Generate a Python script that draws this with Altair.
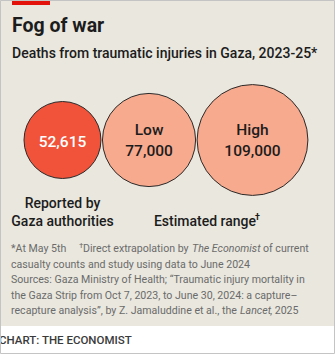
import math
import altair as alt
import pandas as pd

# ---- data ----
categories = ["Reported by Gaza authorities", "Low estimate", "High estimate"]
values = [52615, 77000, 109000]
value_labels = ["52,615", "77,000", "109,000"]
top_labels = ["", "Low", "High"]
fill_colors = ["#f0533a", "#f8aa8e", "#f8aa8e"]
text_colors = ["#ffffff", "#1c1c1c", "#1c1c1c"]

# ---- layout constants ----
W, H = 335, 354
R_MAX = 55.4
LEFT = 24
GAP = 1.5
CY = 140
BEIGE = "#e9e7de"
FONT = "Roboto"

radii = [R_MAX * math.sqrt(v / max(values)) for v in values]
cx = []
pos = LEFT
for r in radii:
    cx.append(pos + r)
    pos += 2 * r + GAP

df = pd.DataFrame({
    "category": categories,
    "value": values,
    "value_label": value_labels,
    "top_label": top_labels,
    "fill": fill_colors,
    "tcolor": text_colors,
    "cx": cx,
    "vy": [CY + 2 if t == "" else CY + 11 for t in top_labels],
    "ty": [CY - 10 for _ in top_labels],
})

xs = alt.Scale(domain=[0, W], range=[0, W])
ys = alt.Scale(domain=[0, H], range=[0, H])
one = pd.DataFrame({"a": [0]})


def txt(s, x, y, size, weight="normal", color="#1c1c1c", align="left",
        style="normal", font=FONT, baseline="alphabetic"):
    return alt.Chart(one).mark_text(
        text=s, align=align, baseline=baseline, fontSize=size,
        fontWeight=weight, fontStyle=style, color=color, font=font
    ).encode(x=alt.value(x), y=alt.value(y))


bg = alt.Chart(one).mark_rect(color=BEIGE).encode(
    x=alt.value(0), x2=alt.value(W), y=alt.value(0), y2=alt.value(326))
redbar = alt.Chart(one).mark_rect(color="#e3120b").encode(
    x=alt.value(12), x2=alt.value(50), y=alt.value(0), y2=alt.value(5))
border = alt.Chart(one).mark_rect(fillOpacity=0, stroke="#c4c4c4", strokeWidth=1).encode(
    x=alt.value(0.5), x2=alt.value(W - 0.5), y=alt.value(0.5), y2=alt.value(H - 0.5))

circles = alt.Chart(df).mark_circle(opacity=1, stroke="#2a2a2a", strokeWidth=1).encode(
    x=alt.X("cx:Q", scale=xs, axis=None),
    y=alt.value(CY),
    size=alt.Size("value:Q", scale=alt.Scale(domain=[0, max(values)], range=[0, (2 * R_MAX) ** 2], zero=True), legend=None),
    fill=alt.Fill("fill:N", scale=None),
)

val_text = alt.Chart(df).mark_text(baseline="middle", align="center", fontSize=15.5, fontWeight=500, font=FONT).encode(
    x=alt.X("cx:Q", scale=xs, axis=None),
    y=alt.Y("vy:Q", scale=ys, axis=None),
    text="value_label:N",
    color=alt.Color("tcolor:N", scale=None),
)
top_text = alt.Chart(df).mark_text(baseline="middle", align="center", fontSize=15.5, fontWeight=500, font=FONT).encode(
    x=alt.X("cx:Q", scale=xs, axis=None),
    y=alt.Y("ty:Q", scale=ys, axis=None),
    text="top_label:N",
    color=alt.Color("tcolor:N", scale=None),
)

layers = [
    bg, redbar,
    txt("Fog of war", 12, 32, 19.5, weight="bold"),
    txt("Deaths from traumatic injuries in Gaza, 2023-25*", 12, 57.5, 14, weight=500),
    circles, val_text, top_text,
    txt("Reported by", cx[0], 204, 14, weight=500, align="center", baseline="middle"),
    txt("Gaza authorities", cx[0], 222, 14, weight=500, align="center", baseline="middle"),
    txt("Estimated range", 205, 222, 14, weight=500, align="center", baseline="middle"),
    txt("†", 255, 217, 9, weight="bold", align="left", baseline="middle"),
]

GREY = "#6b6b6b"
FS = 10.6
L = [252, 267.5, 283, 298.5, 314]
layers += [
    txt("*At May 5th", 11, L[0], FS, color=GREY),
    txt("†", 79, L[0] - 4, 8, color=GREY),
    txt("Direct extrapolation by", 83, L[0], FS, color=GREY),
    txt("The Economist", 192, L[0], FS, color=GREY, style="italic"),
    txt("of current", 263, L[0], FS, color=GREY),
    txt("casualty counts and study using data to June 2024", 11, L[1], FS, color=GREY),
    txt("Sources: Gaza Ministry of Health; \u201cTraumatic injury mortality in", 11, L[2], FS, color=GREY),
    txt("the Gaza Strip from Oct 7, 2023, to June 30, 2024: a capture\u2013", 11, L[3], FS, color=GREY),
    txt("recapture analysis\u201d, by Z. Jamaluddine et al., the", 11, L[4], FS, color=GREY),
    txt("Lancet", 240, L[4], FS, color=GREY, style="italic"),
    txt(", 2025", 270, L[4], FS, color=GREY),
    txt("CHART: THE ECONOMIST", -1, 344, 11.5, weight=500, color="#3a3a3a"),
    border,
]

chart = alt.layer(*layers).properties(
    width=W, height=H, padding=0, autosize=alt.AutoSizeParams(type="none"), background="white"
).configure_view(strokeWidth=0)

chart.save("out.html", embed_options={"renderer": "svg", "actions": False})
